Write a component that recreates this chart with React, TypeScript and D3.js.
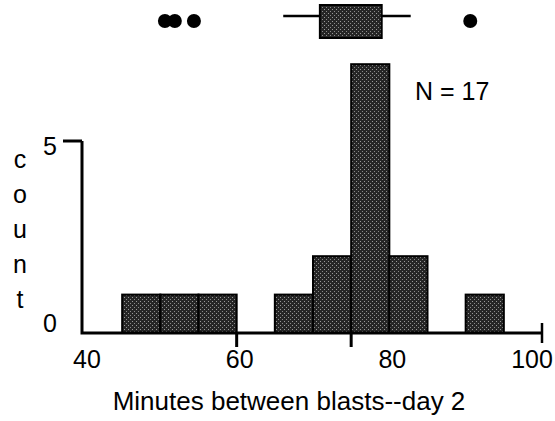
import React, {Component} from 'react'
import * as d3 from 'd3';

// histogram bins (minutes) and counts
const binStarts = [45, 50, 55, 65, 70, 75, 80, 90];
const binWidth = 5;
const counts = [1, 1, 1, 1, 2, 7, 2, 1];

// box plot summary
const whiskerLow = 66.1;
const q1 = 70.9;
const q3 = 79.0;
const whiskerHigh = 82.8;
const outliers = [50.6, 51.9, 54.4, 90.6];

const xTickLabels = [40, 60, 80, 100];
const xTickMarks = [60, 75];
const yTickLabels = [0, 5];
const yLabelLetters = ["c", "o", "u", "n", "t"];

class App extends Component {

    componentDidMount() {
        const node = d3.select("#histogram_box");
        node.selectAll("*").remove();

        const width = 555;
        const height = 421;
        const font = "'Liberation Sans', Arial, Helvetica, sans-serif";

        const svg = node.append("svg")
            .attr("width", width)
            .attr("height", height)
            .style("position", "absolute")
            .style("left", "0px")
            .style("top", "0px")
            .style("background", "#fff");

        // stippled dark grey fill like the old print
        const defs = svg.append("defs");
        const pat = defs.append("pattern")
            .attr("id", "stipple")
            .attr("width", 4)
            .attr("height", 4)
            .attr("patternUnits", "userSpaceOnUse");
        pat.append("rect").attr("width", 4).attr("height", 4).attr("fill", "#262626");
        pat.append("rect").attr("x", 0).attr("y", 1).attr("width", 1).attr("height", 1).attr("fill", "#9a9a9a");
        pat.append("rect").attr("x", 2).attr("y", 3).attr("width", 1).attr("height", 1).attr("fill", "#8a8a8a");

        // scales
        const xScale = d3.scaleLinear().domain([40, 100]).range([84, 542]);
        const yScale = d3.scaleLinear().domain([0, 5]).range([333, 141]);

        // bars
        svg.selectAll("rect.bar")
            .data(binStarts)
            .enter()
            .append("rect")
            .attr("class", "bar")
            .attr("x", d => xScale(d))
            .attr("y", (d, i) => yScale(counts[i]))
            .attr("width", d => xScale(d + binWidth) - xScale(d))
            .attr("height", (d, i) => yScale(0) - yScale(counts[i]))
            .attr("fill", "url(#stipple)")
            .attr("stroke", "#000")
            .attr("stroke-width", 2);

        // axes
        svg.append("path")
            .attr("d", `M${xScale(40) - 2},${yScale(5)} L${xScale(40) - 2},${yScale(0)} L${xScale(100)},${yScale(0)}`)
            .attr("fill", "none")
            .attr("stroke", "#000")
            .attr("stroke-width", 3);

        // y tick at 5
        svg.append("line")
            .attr("x1", 63).attr("x2", xScale(40) - 2)
            .attr("y1", yScale(5)).attr("y2", yScale(5))
            .attr("stroke", "#000").attr("stroke-width", 3);

        // x ticks
        svg.selectAll("line.xtick")
            .data(xTickMarks)
            .enter()
            .append("line")
            .attr("class", "xtick")
            .attr("x1", d => xScale(d)).attr("x2", d => xScale(d))
            .attr("y1", yScale(0)).attr("y2", yScale(0) + 14)
            .attr("stroke", "#000").attr("stroke-width", 3);

        svg.append("line")
            .attr("x1", xScale(100)).attr("x2", xScale(100))
            .attr("y1", yScale(0) - 10).attr("y2", yScale(0) + 10)
            .attr("stroke", "#000").attr("stroke-width", 2.5);

        // x tick labels
        svg.selectAll("text.xlab")
            .data(xTickLabels)
            .enter()
            .append("text")
            .attr("class", "xlab")
            .attr("x", d => xScale(d) + (d === 100 ? -10 : 3))
            .attr("y", 368)
            .attr("text-anchor", "middle")
            .attr("font-family", font)
            .attr("font-size", 25)
            .text(d => d);

        // y tick labels
        svg.selectAll("text.ylab")
            .data(yTickLabels)
            .enter()
            .append("text")
            .attr("class", "ylab")
            .attr("x", 57)
            .attr("y", d => yScale(d) + (d === 0 ? -1 : 14))
            .attr("text-anchor", "end")
            .attr("font-family", font)
            .attr("font-size", 25)
            .text(d => d);

        // vertical "count" label
        svg.selectAll("text.count")
            .data(yLabelLetters)
            .enter()
            .append("text")
            .attr("class", "count")
            .attr("x", 20)
            .attr("y", (d, i) => 168 + i * 35)
            .attr("text-anchor", "middle")
            .attr("font-family", font)
            .attr("font-size", 25)
            .text(d => d);

        // box plot strip
        svg.append("line")
            .attr("x1", xScale(whiskerLow)).attr("x2", xScale(whiskerHigh))
            .attr("y1", 16).attr("y2", 16)
            .attr("stroke", "#000").attr("stroke-width", 2.5);

        svg.append("rect")
            .attr("x", xScale(q1))
            .attr("y", 5)
            .attr("width", xScale(q3) - xScale(q1))
            .attr("height", 33)
            .attr("fill", "url(#stipple)")
            .attr("stroke", "#000")
            .attr("stroke-width", 2);

        svg.selectAll("circle.out")
            .data(outliers)
            .enter()
            .append("circle")
            .attr("class", "out")
            .attr("cx", d => xScale(d))
            .attr("cy", 21)
            .attr("r", 7)
            .attr("fill", "#000");

        // N label
        svg.append("text")
            .attr("x", 415)
            .attr("y", 100)
            .attr("font-family", font)
            .attr("font-size", 25)
            .text("N = 17");

        // x axis title
        svg.append("text")
            .attr("x", 289)
            .attr("y", 410)
            .attr("text-anchor", "middle")
            .attr("font-family", font)
            .attr("font-size", 26)
            .text("Minutes between blasts--day 2");
    };

    render() {
        return (
            <div id={"histogram_box"}></div>
        );
    }
}

export default App;
